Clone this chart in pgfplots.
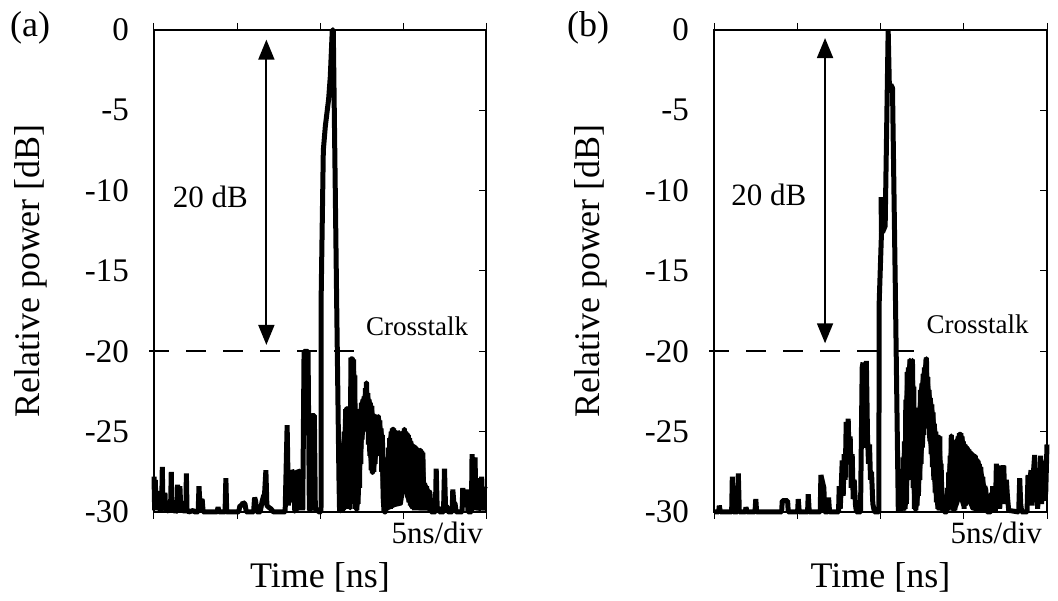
\documentclass[border=0pt]{standalone}
\usepackage{pgfplots}
\pgfplotsset{compat=1.18}
\usepackage{fontspec}
\setmainfont{Liberation Serif}
\usetikzlibrary{arrows.meta}

\newcommand\fTick{\fontsize{33}{38}\selectfont}
\newcommand\fLab{\fontsize{36}{40}\selectfont}
\newcommand\fAnn{\fontsize{31}{36}\selectfont}
\newcommand\fCross{\fontsize{27}{32}\selectfont}

\pgfplotsset{
  panel/.style={
    scale only axis, height=482pt,
    xmin=0, xmax=20, ymin=-30, ymax=0,
    clip=false,
    axis line style={line width=1.2pt},
    xtick={0,5,10,15,20}, xticklabels={},
    xtick pos=both,
    ytick={-30,-25,-20,-15,-10,-5,0},
    yticklabels={-30,-25,-20,-15,-10,-5,0},
    ytick pos=right, yticklabel pos=left,
    xtick align=outside, ytick align=inside,
    major tick length=7pt,
    every tick/.style={black, line width=1pt},
    yticklabel style={font=\fTick, inner sep=0pt, anchor=east, xshift=-25pt},
  },
  band/.style={fill=black, draw=black, line width=3pt, line join=round},
}

\begin{document}
\begin{tikzpicture}
\useasboundingbox (0,0) rectangle (1058pt,601pt);

% ---------------- panel (a)
\begin{axis}[panel, width=332pt, at={(154pt,89pt)}, anchor=south west]
% dense noise bands (envelopes of the trace)
\addplot[band] coordinates {
(11.14,-27.5)(11.46,-25.0)(11.54,-23.6)(11.62,-23.5)(11.70,-23.8)(11.78,-25.0)(11.86,-20.4)(11.94,-20.4)(12.02,-20.5)(12.10,-21.5)(12.18,-24.6)(12.26,-24.4)(12.34,-24.2)(12.42,-23.6)(12.50,-23.2)(12.58,-23.0)(12.66,-22.8)(12.74,-22.3)(12.80,-21.9)(12.88,-22.6)(12.96,-23.0)(13.04,-23.2)(13.12,-23.4)(13.20,-23.9)(13.28,-24.2)(13.36,-24.0)(13.44,-24.2)(13.52,-24.0)(13.60,-24.3)(13.68,-24.8)(13.76,-25.2)(13.86,-30)
(13.80,-29.0)(13.72,-27.5)(13.64,-26.5)(13.56,-25.8)(13.48,-26.0)(13.40,-26.5)(13.32,-27.0)(13.24,-27.5)(13.16,-27.6)(13.08,-27.4)(13.00,-26.5)(12.92,-25.8)(12.84,-24.8)(12.78,-24.0)(12.70,-24.5)(12.62,-25.0)(12.54,-25.5)(12.46,-27.0)(12.38,-28.5)(12.30,-29.5)(12.22,-29.9)(12.14,-29.8)(12.06,-27.0)(11.98,-26.0)(11.90,-28.0)(11.82,-29.8)(11.74,-29.6)(11.66,-28.5)(11.58,-29.0)(11.50,-29.8)(11.18,-30)
};
\addplot[band] coordinates {
(14.00,-28.8)(14.04,-26.6)(14.12,-26.0)(14.20,-25.4)(14.28,-25.0)(14.36,-24.8)(14.44,-24.8)(14.52,-25.0)(14.60,-25.0)(14.68,-25.1)(14.76,-25.0)(14.84,-25.2)(14.92,-25.1)(15.00,-25.0)(15.08,-24.8)(15.16,-25.0)(15.24,-25.1)(15.32,-25.2)(15.40,-25.4)(15.48,-25.6)(15.56,-25.8)(15.64,-25.9)(15.72,-25.9)(15.80,-26.0)(15.88,-26.1)(15.96,-26.2)(16.04,-26.1)(16.12,-26.2)(16.20,-26.3)(16.30,-28.2)(16.42,-28.4)(16.56,-28.7)(16.62,-28.8)(16.70,-30)
(16.48,-29.8)(16.00,-29.8)(15.50,-29.7)(15.20,-29.0)(15.12,-27.2)(15.04,-28.5)(14.90,-29.5)(14.50,-29.6)(14.30,-29.7)(14.08,-29.8)
};
\addplot[black, line width=5pt, line join=bevel, mark=none] coordinates {
(0.00,-27.8)(0.04,-29.9)(0.08,-28.0)(0.12,-29.9)(0.17,-28.7)(0.22,-29.8)(0.30,-29.7)(0.38,-29.9)(0.46,-29.8)(0.50,-27.2)(0.54,-29.7)(0.60,-29.6)(0.66,-28.8)(0.70,-29.9)(0.80,-29.8)(0.92,-30)(1.00,-29.7)(1.04,-27.5)(1.08,-29.9)(1.18,-29.8)(1.30,-30)(1.38,-29.9)(1.42,-28.3)(1.48,-29.9)(1.56,-28.4)(1.62,-29.9)(1.74,-29.8)(1.86,-30)(1.92,-29.9)(1.95,-27.6)(1.99,-29.9)(2.10,-30)(2.36,-29.9)(2.45,-30)(2.66,-30)(2.71,-28.4)(2.76,-29.4)(2.90,-29.2)(2.96,-30)(3.80,-30)(3.86,-29.7)(3.92,-30)(4.28,-30)(4.33,-27.9)(4.38,-30)(5.10,-30)(5.18,-29.6)(5.30,-29.6)(5.36,-29.4)(5.48,-29.5)(5.56,-30)(6.00,-30)(6.06,-29.1)(6.12,-29.3)(6.20,-30)(6.40,-30)(6.50,-29.4)(6.60,-29.0)(6.66,-28.9)(6.74,-27.4)(6.80,-29.6)(6.90,-29.7)(7.04,-29.8)(7.20,-30)(7.90,-30)(8.02,-24.6)(8.10,-29.6)(8.16,-27.4)(8.24,-29.4)(8.30,-27.4)(8.40,-27.6)(8.48,-29.9)(8.56,-30)(8.66,-27.4)(8.74,-27.5)(8.82,-29.9)(8.88,-27.4)(8.96,-29.9)(9.04,-20.0)(9.28,-20.0)(9.36,-29.9)(9.44,-29.8)(9.50,-24.0)(9.66,-24.0)(9.72,-29.9)(9.84,-29.8)(9.92,-30)(10.06,-30)(10.07,-16.6)(10.20,-7.5)(10.32,-6.0)(10.52,-4.3)(10.62,-2.9)(10.74,0)(10.80,0)(11.00,-16.6)(11.14,-27.8)
(11.18,-30)(11.22,-27.8)(11.26,-29.6)(11.30,-28.2)(11.34,-30)(11.38,-27.9)(11.42,-29.5)(11.46,-25.0)(11.50,-29.8)(11.54,-23.6)(11.58,-29.0)(11.62,-23.5)(11.66,-28.5)(11.70,-23.8)(11.74,-29.6)(11.78,-25.0)(11.82,-29.8)(11.86,-20.4)(11.90,-28.0)(11.94,-20.4)(11.98,-26.0)(12.02,-20.5)(12.06,-27.0)(12.10,-21.5)(12.14,-29.8)(12.18,-24.6)(12.22,-29.9)(12.26,-24.4)(12.30,-29.5)(12.34,-24.2)(12.38,-28.5)(12.42,-23.6)(12.46,-27.0)(12.50,-23.2)(12.54,-25.5)(12.58,-23.0)(12.62,-25.0)(12.66,-22.8)(12.70,-24.5)(12.74,-22.3)(12.78,-24.0)(12.80,-21.9)(12.84,-24.8)(12.88,-22.6)(12.92,-25.8)(12.96,-23.0)(13.00,-26.5)(13.04,-23.2)(13.08,-27.4)(13.12,-23.4)(13.16,-27.6)(13.20,-23.9)(13.24,-27.5)(13.28,-24.2)(13.32,-27.0)(13.36,-24.0)(13.40,-26.5)(13.44,-24.2)(13.48,-26.0)(13.52,-24.0)(13.56,-25.8)(13.60,-24.3)(13.64,-26.5)(13.68,-24.8)(13.72,-27.5)(13.76,-25.2)(13.80,-29.0)(13.86,-30.0)(13.96,-30)
(14.00,-28.8)(14.04,-26.6)(14.08,-29.8)(14.12,-26.0)(14.16,-29.6)(14.20,-25.4)(14.24,-29.8)(14.28,-25.0)(14.32,-29.4)(14.36,-24.8)(14.40,-29.0)(14.44,-24.8)(14.48,-28.6)(14.52,-25.0)(14.56,-28.6)(14.60,-25.0)(14.64,-28.8)(14.68,-25.1)(14.72,-28.5)(14.76,-25.0)(14.80,-29.0)(14.84,-25.2)(14.88,-28.8)(14.92,-25.1)(14.96,-28.4)(15.00,-25.0)(15.04,-28.0)(15.08,-24.8)(15.12,-27.0)(15.16,-25.0)(15.20,-28.5)(15.24,-25.1)(15.28,-29.0)(15.32,-25.2)(15.36,-29.4)(15.40,-25.4)(15.44,-29.6)(15.48,-25.6)(15.52,-29.7)(15.56,-25.8)(15.60,-29.8)(15.64,-25.9)(15.68,-29.9)(15.72,-25.9)(15.76,-29.8)(15.80,-26.0)(15.84,-29.9)(15.88,-26.1)(15.92,-29.9)(15.96,-26.2)(16.00,-29.8)(16.04,-26.1)(16.08,-29.9)(16.12,-26.2)(16.16,-29.9)(16.20,-26.3)(16.24,-29.9)(16.30,-28.2)(16.36,-29.9)(16.42,-28.4)(16.48,-29.8)(16.56,-28.7)(16.62,-28.8)(16.70,-30)
(16.95,-30)(17.00,-27.3)(17.06,-29.8)(17.14,-29.7)(17.20,-30)(17.44,-30)(17.50,-27.3)(17.56,-29.6)(17.66,-29.7)(17.72,-30)(17.96,-30)(18.00,-28.6)(18.06,-29.4)(18.14,-29.5)(18.20,-30)(18.56,-30)(18.60,-28.5)(18.66,-29.6)(18.78,-29.5)(18.84,-28.6)(18.92,-30)(19.12,-30)(19.16,-26.4)(19.24,-28.0)(19.34,-26.6)(19.40,-29.9)(19.48,-27.9)(19.56,-29.9)(19.66,-29.5)(19.74,-27.8)(19.80,-29.9)(19.90,-28.5)(20.00,-28.6)
};
\draw[black, line width=2pt, dash pattern=on 20pt off 17pt] (axis cs:-0.3,-20) -- (axis cs:12.28,-20);
\draw[black, line width=1.8pt, {Triangle[length=20pt,width=16pt]}-{Triangle[length=20pt,width=16pt]}] (axis cs:6.77,-0.6) -- (axis cs:6.77,-19.6);
\node[font=\fAnn, inner sep=0pt] at (axis cs:3.4,-10.4) {20 dB};
\node[font=\fCross, inner sep=0pt] at (axis cs:15.85,-18.45) {Crosstalk};
\node[font=\fAnn, inner sep=0pt, anchor=north east] at ([xshift=-3pt,yshift=-10pt]rel axis cs:1,0) {5ns/div};
\node[font=\fLab, inner sep=0pt, anchor=base] at ([yshift=-76pt]rel axis cs:0.5,0) {Time [ns]};
\node[font=\fLab, inner sep=0pt, anchor=base, rotate=90] at (axis description cs:-0.3434,0.5) {Relative power [dB]};
\end{axis}

% ---------------- panel (b)
\begin{axis}[panel, width=333pt, at={(714pt,89pt)}, anchor=south west]
\addplot[band] coordinates {
(11.36,-26.6)(11.44,-25.6)(11.52,-23.0)(11.60,-21.3)(11.68,-21.0)(11.76,-20.5)(11.84,-21.5)(11.92,-20.5)(12.00,-22.2)(12.08,-25.3)(12.16,-24.8)(12.24,-24.1)(12.32,-23.5)(12.40,-22.4)(12.48,-22.0)(12.56,-21.4)(12.64,-21.0)(12.72,-20.6)(12.76,-20.4)(12.84,-21.6)(12.92,-22.4)(13.00,-22.9)(13.08,-23.3)(13.16,-23.8)(13.24,-24.5)(13.32,-25.0)(13.40,-25.3)(13.48,-25.3)(13.56,-25.3)(13.64,-27.0)(13.76,-29.1)
(13.70,-29.9)(13.60,-29.8)(13.44,-29.8)(13.36,-29.4)(13.28,-28.8)(13.20,-28.0)(13.12,-27.2)(13.04,-26.4)(12.96,-25.6)(12.88,-24.8)(12.80,-24.3)(12.68,-24.6)(12.60,-25.2)(12.52,-26.0)(12.44,-27.0)(12.36,-28.0)(12.28,-29.0)(12.20,-29.6)(12.12,-29.9)(12.04,-29.8)(11.96,-28.5)(11.88,-27.5)(11.80,-26.0)(11.72,-27.0)(11.64,-28.0)(11.56,-29.5)(11.40,-29.9)
};
\addplot[band] coordinates {
(14.10,-27.5)(14.18,-26.5)(14.25,-25.2)(14.34,-27.6)(14.42,-26.0)(14.50,-25.6)(14.58,-25.5)(14.66,-25.3)(14.74,-25.1)(14.82,-25.1)(14.90,-25.3)(14.98,-25.6)(15.06,-25.8)(15.14,-25.9)(15.22,-26.0)(15.30,-26.1)(15.38,-26.25)(15.46,-26.3)(15.54,-26.4)(15.62,-26.45)(15.70,-26.5)(15.78,-26.7)(15.86,-26.8)(15.94,-27.0)(16.02,-27.2)(16.14,-27.8)(16.26,-28.4)(16.32,-28.6)
(16.20,-29.9)(15.90,-29.9)(15.50,-29.8)(15.26,-29.2)(15.18,-29.5)(14.94,-29.6)(14.78,-29.0)(14.62,-29.5)(14.46,-29.9)(14.22,-29.8)
};
\addplot[black, line width=5pt, line join=bevel, mark=none] coordinates {
(0.00,-30)(0.28,-30)(0.32,-29.6)(0.38,-30)(1.06,-30)(1.10,-27.8)(1.16,-30)(1.40,-30)(1.46,-27.6)(1.52,-30)(1.88,-30)(1.92,-29.7)(1.98,-30)(2.46,-30)(2.51,-29.2)(2.56,-30)(4.06,-30)(4.10,-29.3)(4.42,-29.3)(4.46,-30)(5.02,-30)(5.06,-29.2)(5.12,-30)(5.62,-30)(5.66,-28.9)(5.72,-30)(6.38,-30)(6.42,-27.7)(6.60,-28.5)(6.64,-30)(6.84,-30)(6.88,-29.1)(6.94,-30)(7.48,-30)
(7.52,-28.4)(7.58,-29.8)(7.64,-28.5)(7.70,-26.8)(7.76,-29.0)(7.82,-26.4)(7.88,-28.0)(7.94,-24.4)(8.00,-26.5)(8.06,-24.2)(8.12,-27.0)(8.18,-25.3)(8.24,-28.5)(8.30,-26.4)(8.36,-29.2)(8.42,-28.0)(8.50,-29.6)(8.56,-30)(8.80,-30)(8.90,-21.0)(8.95,-20.7)(9.00,-26.0)(9.08,-21.5)(9.15,-20.6)(9.22,-25.3)(9.28,-27.0)(9.34,-25.8)(9.40,-28.0)(9.46,-27.5)(9.54,-29.5)(9.64,-30)(9.90,-30)
(9.92,-17)(10.06,-12.6)(10.03,-10.4)(10.12,-12.6)(10.28,-12.2)(10.46,0)(10.54,-3.9)(10.62,-3.4)(10.72,-3.6)(10.90,-16.8)(11.07,-30)
(11.12,-29.0)(11.16,-30)(11.20,-28.4)(11.24,-30)(11.28,-27.6)(11.32,-29.8)(11.36,-26.6)(11.40,-29.9)(11.44,-25.6)(11.48,-29.8)(11.52,-23.0)(11.56,-29.5)(11.60,-21.3)(11.64,-28.0)(11.68,-21.0)(11.72,-27.0)(11.76,-20.5)(11.80,-26.0)(11.84,-21.5)(11.88,-27.5)(11.92,-20.5)(11.96,-28.5)(12.00,-22.2)(12.04,-29.8)(12.08,-25.3)(12.12,-29.9)(12.16,-24.8)(12.20,-29.6)(12.24,-24.1)(12.28,-29.0)(12.32,-23.5)(12.36,-28.0)(12.40,-22.4)(12.44,-27.0)(12.48,-22.0)(12.52,-26.0)(12.56,-21.4)(12.60,-25.2)(12.64,-21.0)(12.68,-24.6)(12.72,-20.6)(12.76,-20.4)(12.80,-24.3)(12.84,-21.6)(12.88,-24.8)(12.92,-22.4)(12.96,-25.6)(13.00,-22.9)(13.04,-26.4)(13.08,-23.3)(13.12,-27.2)(13.16,-23.8)(13.20,-28.0)(13.24,-24.5)(13.28,-28.8)(13.32,-25.0)(13.36,-29.4)(13.40,-25.3)(13.44,-29.8)(13.48,-25.3)(13.52,-29.9)(13.56,-25.3)(13.60,-29.8)(13.64,-27.0)(13.70,-29.9)(13.76,-29.1)(13.82,-30)(13.98,-30)
(14.02,-28.5)(14.06,-29.9)(14.10,-27.5)(14.14,-29.7)(14.18,-26.5)(14.22,-29.8)(14.25,-25.2)(14.30,-29.6)(14.34,-27.6)(14.38,-29.8)(14.42,-26.0)(14.46,-29.9)(14.50,-25.6)(14.54,-29.4)(14.58,-25.5)(14.62,-29.0)(14.66,-25.3)(14.70,-28.6)(14.74,-25.1)(14.78,-28.4)(14.82,-25.1)(14.86,-28.8)(14.90,-25.3)(14.94,-29.4)(14.98,-25.6)(15.02,-29.8)(15.06,-25.8)(15.10,-29.6)(15.14,-25.9)(15.18,-28.8)(15.22,-26.0)(15.26,-28.4)(15.30,-26.1)(15.34,-28.8)(15.38,-26.25)(15.42,-29.3)(15.46,-26.3)(15.50,-29.6)(15.54,-26.4)(15.58,-29.8)(15.62,-26.45)(15.66,-29.5)(15.70,-26.5)(15.74,-29.0)(15.78,-26.7)(15.82,-29.6)(15.86,-26.8)(15.90,-29.9)(15.94,-27.0)(15.98,-29.6)(16.02,-27.2)(16.08,-29.8)(16.14,-27.8)(16.20,-29.9)(16.26,-28.4)(16.32,-28.6)(16.40,-30)
(16.62,-30)(16.66,-28.8)(16.70,-29.9)(16.74,-28.4)(16.80,-29.6)(16.90,-30)(16.96,-27.0)(17.02,-29.6)(17.10,-27.6)(17.16,-29.8)(17.22,-27.1)(17.28,-29.4)(17.36,-27.4)(17.40,-27.1)(17.48,-29.5)(17.56,-28.0)(17.62,-29.0)(17.70,-29.9)(18.30,-30)(18.36,-27.9)(18.42,-29.5)(18.48,-30)(18.80,-30)(18.86,-27.7)(18.92,-29.5)(18.98,-28.0)(19.04,-27.4)(19.10,-29.6)(19.18,-27.6)(19.26,-26.45)(19.32,-29.0)(19.38,-27.6)(19.44,-29.8)(19.50,-27.6)(19.56,-28.6)(19.62,-26.5)(19.68,-29.5)(19.74,-27.2)(19.80,-29.3)(19.86,-26.8)(19.92,-28.9)(20.00,-25.8)
};
\draw[black, line width=2pt, dash pattern=on 20pt off 17pt] (axis cs:-0.3,-20) -- (axis cs:12.22,-20);
\draw[black, line width=1.8pt, {Triangle[length=20pt,width=16pt]}-{Triangle[length=20pt,width=16pt]}] (axis cs:6.67,-0.5) -- (axis cs:6.67,-19.5);
\node[font=\fAnn, inner sep=0pt] at (axis cs:3.3,-10.25) {20 dB};
\node[font=\fCross, inner sep=0pt] at (axis cs:15.83,-18.3) {Crosstalk};
\node[font=\fAnn, inner sep=0pt, anchor=north east] at ([xshift=-5pt,yshift=-10pt]rel axis cs:1,0) {5ns/div};
\node[font=\fLab, inner sep=0pt, anchor=base] at ([yshift=-76pt]rel axis cs:0.5,0) {Time [ns]};
\node[font=\fLab, inner sep=0pt, anchor=base, rotate=90] at (axis description cs:-0.345,0.5) {Relative power [dB]};
\end{axis}

\node[font=\fLab, inner sep=0pt, anchor=base west] at (10pt,564pt) {(a)};
\node[font=\fLab, inner sep=0pt, anchor=base west] at (567pt,564pt) {(b)};
\end{tikzpicture}
\end{document}
